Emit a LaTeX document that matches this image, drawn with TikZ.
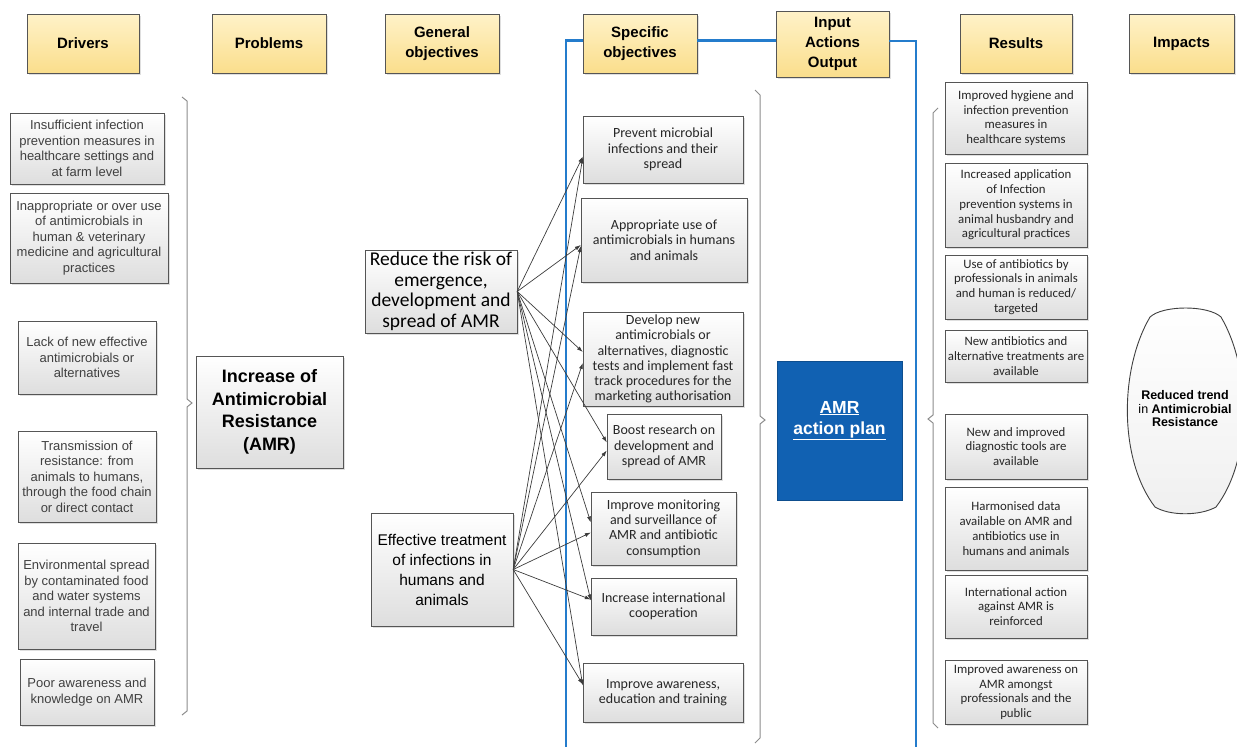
\documentclass[tikz,border=0pt]{standalone}
\usepackage{fontspec}
\setmainfont{Liberation Sans}
\newfontfamily\calibfont{Carlito}
\usetikzlibrary{arrows.meta,shadows}

\definecolor{hdtop}{RGB}{255,242,200}
\definecolor{hdbot}{RGB}{250,222,140}
\definecolor{boxline}{RGB}{85,85,85}
\definecolor{planblue}{RGB}{17,97,178}
\definecolor{frameblue}{RGB}{36,124,204}
\definecolor{arrgray}{RGB}{60,60,60}

\tikzset{
  softshadow/.style={drop shadow={opacity=.25,shadow xshift=1.5pt,shadow yshift=-1.5pt}},
  hdr/.style={draw=boxline, top color=hdtop, bottom color=hdbot, minimum height=59,
    align=center, inner sep=1pt, softshadow, font=\bfseries\fontsize{15}{20}\selectfont},
  cell/.style={draw=boxline, top color=white, bottom color=black!13, align=center,
    inner sep=1pt, softshadow},
  drvbox/.style={cell, text=black!75, font=\fontsize{13}{15.5}\selectfont},
  sobox/.style={cell, text=black!85, font=\calibfont\fontsize{14}{15.3}\selectfont},
  resbox/.style={cell, text=black!85, minimum width=142, font=\calibfont\fontsize{12.8}{14.8}\selectfont},
  brace/.style={draw=black!45, line width=1pt},
  frame/.style={draw=frameblue, line width=2.5pt},
  link/.style={draw=arrgray, line width=.7pt, -{Latex[length=6pt,width=4pt]}}
}

\begin{document}
\begin{tikzpicture}[x=1pt,y=-1pt]
  \useasboundingbox (0,0) rectangle (1237,747);
  \draw
    (83,43.5) node[hdr,minimum width=112] (drv){Drivers}
    (269,43.5) node[hdr,minimum width=114] (prb){Problems}
    (442,43.5) node[hdr,minimum width=114] (gob){General\\objectives}
    (640,43.5) node[hdr,minimum width=114] (spo){Specific\\objectives}
    (832.5,44) node[hdr,minimum width=113,minimum height=66] (iao){Input\\Actions\\Output}
    (1016,43.5) node[hdr,minimum width=112] (res){Results}
    (1181.5,43.5) node[hdr,minimum width=105] (imp){Impacts};
  \coordinate (fbl) at (566,747);
  \coordinate (fbr) at (916,747);
  \draw[frame] (fbl) |- ([yshift=3pt]spo.west);
  \draw[frame] ([yshift=3pt]spo.east) -- ([yshift=3pt]spo.east -| iao.west);
  \draw[frame] ([yshift=3pt]iao.east) -| (fbr);
  \draw
    (87,148.5) node[drvbox,minimum width=154,minimum height=71] (d1){Insufficient infection\\prevention measures in\\healthcare settings and\\at farm level}
    (89,238) node[drvbox,minimum width=158,minimum height=90] (d2){Inappropriate or over use\\of antimicrobials in\\human \& veterinary\\medicine and agricultural\\practices}
    (87,357.5) node[drvbox,minimum width=138,minimum height=73] (d3){Lack of new effective\\antimicrobials or\\alternatives}
    (87,476.5) node[drvbox,minimum width=138,minimum height=91] (d4){Transmission of\\resistance: from\\animals to humans,\\through the food chain\\or direct contact}
    (86.5,596) node[drvbox,minimum width=137,minimum height=106] (d5){Environmental spread\\by contaminated food\\and water systems\\and internal trade and\\travel}
    (87,692) node[drvbox,minimum width=134,minimum height=66] (d6){Poor awareness and\\knowledge on AMR};
  \draw[brace] (182,97) -- (187,101) -- (187,399) -- (192,403) -- (187,407) -- (187,711) -- (182,715);
  \draw
    (269.5,412) node[cell,minimum width=147,minimum height=112,font=\bfseries\fontsize{18}{22.5}\selectfont] (amr){Increase of\\Antimicrobial\\Resistance\\(AMR)};
  \draw
    (441,291.5) node[cell,minimum width=152,minimum height=83,font=\calibfont\fontsize{19.5}{20.5}\selectfont] (go1){Reduce the risk of\\emergence,\\development and\\spread of AMR}
    (442,569.5) node[cell,minimum width=142,minimum height=113,font=\fontsize{15.5}{20}\selectfont] (go2){Effective treatment\\of infections in\\humans and\\animals};
  \draw
    (663,149.5) node[sobox,minimum width=160,minimum height=67] (so1){Prevent microbial\\infections and their\\spread}
    (664,240) node[sobox,minimum width=166,minimum height=84] (so2){Appropriate use of\\antimicrobials in humans\\and animals}
    (663,359) node[sobox,minimum width=160,minimum height=94] (so3){Develop new\\antimicrobials or\\alternatives, diagnostic\\tests and implement fast\\track procedures for the\\marketing authorisation}
    (664,446.5) node[sobox,minimum width=114,minimum height=65] (so4){Boost research on\\development and\\spread of AMR}
    (663.5,528.5) node[sobox,minimum width=145,minimum height=73] (so5){Improve monitoring\\and surveillance of\\AMR and antibiotic\\consumption}
    (663.5,606.5) node[sobox,minimum width=145,minimum height=57] (so6){Increase international\\cooperation}
    (663,692.5) node[sobox,minimum width=160,minimum height=59] (so7){Improve awareness,\\education and training};
  \begin{scope}[link]
    \draw (go1.east) to ([yshift=-7pt]so1.west);
    \draw (go1.east) to ([yshift=-5pt]so2.west);
    \draw (go1.east) to ([yshift=7pt]so3.west);
    \draw (go1.east) to ([yshift=4pt]so4.west);
    \draw (go1.east) to ([yshift=6pt]so5.west);
    \draw (go1.east) to ([yshift=6pt]so6.west);
    \draw (go1.east) to ([yshift=7pt]so7.west);
    \draw (go2.east) to ([yshift=-8pt]so1.west);
    \draw (go2.east) to ([yshift=-6pt]so2.west);
    \draw (go2.east) to ([yshift=-4pt]so3.west);
    \draw (go2.east) to ([yshift=-4pt]so4.west);
    \draw (go2.east) to ([yshift=-4pt]so5.west);
    \draw (go2.east) to ([yshift=7pt]so6.west);
    \draw (go2.east) to ([yshift=8pt]so7.west);
  \end{scope}
  \draw[brace] (755,90) -- (760,95) -- (760,416) -- (765,420) -- (760,424) -- (760,738) -- (755,743);
  \draw
    (839.5,430.5) node[draw=planblue!80!black,fill=planblue,text=white,align=center,minimum width=125,minimum height=139,text depth=26pt,font=\bfseries\fontsize{17.5}{21}\selectfont] (plan){\underline{AMR}\\\underline{action plan}};
  \draw[brace] (938,108) -- (933,113) -- (933,415) -- (928,419) -- (933,423) -- (933,723) -- (938,728);
  \draw
    (1016,118) node[resbox,minimum height=72] (r1){Improved hygiene and\\infection prevention\\measures in\\healthcare systems}
    (1016,205) node[resbox,minimum height=84] (r2){Increased application\\of Infection\\prevention systems in\\animal husbandry and\\agricultural practices}
    (1016,287) node[resbox,minimum height=64] (r3){Use of antibiotics by\\professionals in animals\\and human is reduced/\\targeted}
    (1016,356) node[resbox,minimum height=52] (r4){New antibiotics and\\alternative treatments are\\available}
    (1016,446.5) node[resbox,minimum height=65] (r5){New and improved\\diagnostic tools are\\available}
    (1016,528.5) node[resbox,minimum height=83] (r6){Harmonised data\\available on AMR and\\antibiotics use in\\humans and animals}
    (1016,606.5) node[resbox,minimum height=63] (r7){International action\\against AMR is\\reinforced}
    (1016,692) node[resbox,minimum height=64] (r8){Improved awareness on\\AMR amongst\\professionals and the\\public};
  \draw[draw=black!75, line width=.9pt, top color=white, bottom color=black!6]
    (1150,317) .. controls (1163,305) and (1208,305) .. (1221,317)
    .. controls (1252,370) and (1252,460) .. (1216,507)
    .. controls (1200,516) and (1170,516) .. (1155,507)
    .. controls (1119,460) and (1119,370) .. (1150,317) -- cycle;
  \draw
    (1185,409) node[align=center,font=\fontsize{12.5}{13.5}\selectfont] (trend){\textbf{Reduced trend}\\in \textbf{Antimicrobial}\\\textbf{Resistance}};
\end{tikzpicture}
\end{document}
